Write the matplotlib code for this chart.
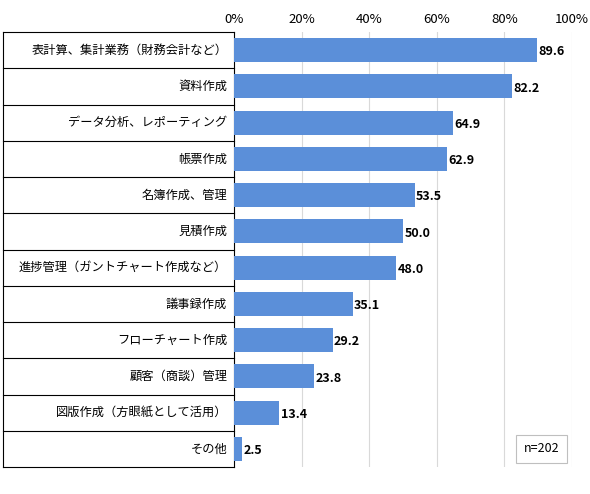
import matplotlib
matplotlib.use("Agg")
import matplotlib.pyplot as plt
from matplotlib.transforms import blended_transform_factory

plt.rcParams['font.family'] = ['Noto Sans CJK JP', 'DejaVu Sans']

categories = ["表計算、集計業務（財務会計など）", "資料作成", "データ分析、レポーティング", "帳票作成",
              "名簿作成、管理", "見積作成", "進捗管理（ガントチャート作成など）", "議事録作成",
              "フローチャート作成", "顧客（商談）管理", "図版作成（方眼紙として活用）", "その他"]
values = [89.6, 82.2, 64.9, 62.9, 53.5, 50.0, 48.0, 35.1, 29.2, 23.8, 13.4, 2.5]
ticks = [0, 20, 40, 60, 80, 100]
tick_labels = ["0%", "20%", "40%", "60%", "80%", "100%"]

fig = plt.figure(figsize=(5.9, 4.94), dpi=100)
ax = fig.add_axes([234/590, 1-467/494, 338/590, 435/494])
n = len(categories)
y = list(range(n))
ax.barh(y, values, height=0.66, color="#5b8fd9", zorder=3)
ax.set_ylim(n-0.5, -0.5)
ax.set_xlim(0, 100)
ax.set_xticks(ticks)
ax.set_xticklabels(tick_labels, fontsize=9.5)
ax.xaxis.tick_top()
ax.tick_params(axis='x', length=0, pad=4)
ax.set_yticks([])
ax.grid(axis='x', color="#d9d9d9", linewidth=0.8, zorder=0)
for s in ["top", "right", "bottom"]:
    ax.spines[s].set_visible(False)
ax.spines["left"].set_color("black")
for yi, v in zip(y, values):
    ax.text(v + 0.4, yi + 0.05, f"{v:.1f}", va="center", ha="left", fontsize=9, fontweight="bold")

tr = blended_transform_factory(ax.transAxes, ax.transData)
x0 = (3-234)/338
for k in range(n+1):
    ax.plot([x0, 0], [k-0.5, k-0.5], transform=tr, color="black", lw=0.8, clip_on=False)
ax.plot([x0, x0], [-0.5, n-0.5], transform=tr, color="black", lw=0.8, clip_on=False)
for yi, c in zip(y, categories):
    ax.text(-0.02, yi, c, transform=tr, ha="right", va="center", fontsize=8.8)

ax.text(0.91, 11.0, "n=202", ha="center", va="center", fontsize=9, transform=tr,
        bbox=dict(boxstyle="square,pad=0.6", fc="white", ec="#bfbfbf", lw=0.8), zorder=5)

fig.savefig("out.png", dpi=100)
